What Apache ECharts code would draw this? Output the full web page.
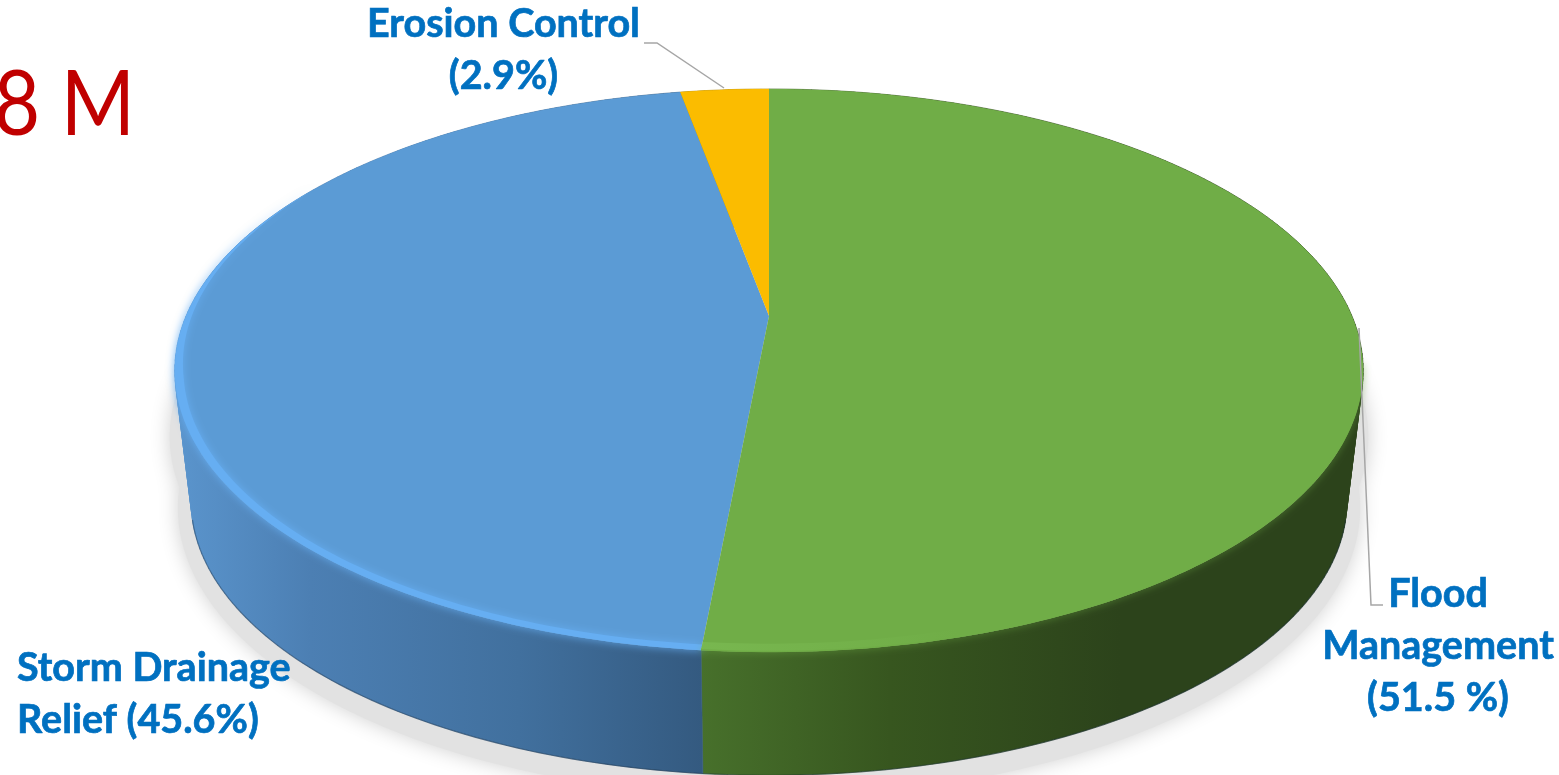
<!DOCTYPE html>
<html>
<head>
<meta charset="utf-8">
<style>html,body{margin:0;padding:0;background:#fff;overflow:hidden}#main{width:1559px;height:775px}</style>
<script src="https://cdn.jsdelivr.net/npm/echarts@6/dist/echarts.min.js"></script>
</head>
<body>
<div id="main"></div>
<script>
// slices go clockwise from 12 o'clock
var categories = ['Flood Management', 'Storm Drainage Relief', 'Erosion Control'];
var shares = [51.5, 45.6, 2.9];
var labelTexts = ['Flood\nManagement\n(51.5 %)', 'Storm Drainage\nRelief (45.6%)', 'Erosion Control\n(2.9%)'];
var amountText = '8 M';

var topColors = ['#70AD47', '#5B9BD5', '#FBBC00'];
var wallStops = [
  [[0, '#47702b'], [0.45, '#37561f'], [1, '#2c431b']],
  [[0, '#5a94cc'], [0.25, '#4c7fb3'], [0.65, '#41709e'], [1, '#345a80']],
  [[0, '#b58a00'], [1, '#b58a00']]
];
var wallX = [[702, 1120], [180, 702], [680, 769]];

// perspective disc: k is the tilt, a and b the disc size on screen
var k = 0.1935;
var topDisc = {cx: 769, cy: 316, a: 583, b: 271};
var lowDisc = {cx: 769, cy: 448, a: 567, b: 264};
var shadowLow = {cx: 769, cy: 452, a: 580, b: 278};
var shadowMid = {cx: 769, cy: 382, a: 588, b: 272};

function pt(d, deg, s) {
  var r = deg * Math.PI / 180;
  var u = Math.sin(r) * s, v = Math.cos(r) * s;
  var w = 1 + k * v;
  return [d.cx + d.a * u / w, d.cy - d.b * v / w];
}
function arc(d, from, to, s) {
  var out = [], n = Math.max(2, Math.ceil(Math.abs(to - from)));
  for (var i = 0; i <= n; i++) {
    var deg = from + (to - from) * i / n;
    out.push(pt(d, deg, typeof s === 'function' ? s(deg) : s));
  }
  return out;
}
function pathOf(points) {
  return 'M' + points.map(function (p) { return p[0].toFixed(2) + ' ' + p[1].toFixed(2); }).join('L') + 'Z';
}
function lineOf(points) {
  return 'M' + points.map(function (p) { return p[0].toFixed(2) + ' ' + p[1].toFixed(2); }).join('L');
}
function range(i) {
  var total = shares.reduce(function (a, b) { return a + b; }, 0), sum = 0;
  for (var j = 0; j < i; j++) sum += shares[j];
  return [sum / total * 360, (sum + shares[i]) / total * 360];
}
// wall as small quads all wound the same way, a single polygon folds at the sides and leaves holes
function wallPath(top, low) {
  var out = '';
  for (var i = 0; i < top.length - 1; i++) {
    var q = [top[i], top[i + 1], low[i + 1], low[i]], area = 0;
    for (var j = 0; j < 4; j++) {
      var a = q[j], b = q[(j + 1) % 4];
      area += a[0] * b[1] - b[0] * a[1];
    }
    if (area < 0) q.reverse();
    out += pathOf(q);
  }
  return out;
}

function renderShadow(params) {
  return {
    type: 'path', silent: true,
    shape: {pathData: pathOf(arc(shadowLow, 0, 360, 1)) + pathOf(arc(shadowMid, 0, 360, 1))},
    style: {fill: '#e2e2e2', shadowBlur: 20, shadowColor: '#d0d0d0'}
  };
}

function renderWall(params) {
  var i = params.dataIndex, r = range(i);
  var g = new echarts.graphic.LinearGradient(wallX[i][0], 0, wallX[i][1], 0, wallStops[i].map(function (s) {
    return {offset: s[0], color: s[1]};
  }), true);
  var top = arc(topDisc, r[0], r[1], 1);
  var low = arc(lowDisc, r[0], r[1], 1);
  var front = i === 0 ? arc(lowDisc, 105, r[1], 1) : i === 1 ? arc(lowDisc, r[0], 255, 1) : [];
  var kids = [{type: 'path', shape: {pathData: wallPath(top, low)}, style: {fill: g, stroke: g, lineWidth: 0.6}}];
  if (front.length) {
    kids.push({type: 'path', shape: {pathData: lineOf(front)}, style: {fill: null, stroke: 'rgba(20,40,60,0.4)', lineWidth: 1.2}});
  }
  return {type: 'group', children: kids};
}

function renderTop(params) {
  var i = params.dataIndex, r = range(i), kids = [];
  var edge = arc(topDisc, r[0], r[1], 1);
  var face = pathOf([[topDisc.cx, topDisc.cy]].concat(edge));
  if (i === 0) {
    // soft edge where the green face meets the dark wall
    kids.push({
      type: 'path', z2: 3,
      shape: {pathData: lineOf(arc(topDisc, 100, r[1], 0.998))},
      style: {fill: null, stroke: '#70AD47', lineWidth: 2, shadowBlur: 7, shadowColor: '#70AD47'}
    });
  }
  kids.push({type: 'path', z2: i === 0 ? 4 : 1, shape: {pathData: face}, style: {fill: topColors[i]}});
  if (i === 1) {
    // bright bevel on the front left rim, fades out going up
    var band = function (deg) { return 1 - 0.014 * Math.min(1, Math.max(0, (302 - deg) / 45)); };
    kids.push({
      type: 'path', z2: 2,
      shape: {pathData: pathOf(arc(topDisc, r[0], 302, 1).concat(arc(topDisc, r[0], 302, band).reverse()))},
      style: {fill: '#66aef2', shadowBlur: 8, shadowColor: '#66aef2'}
    });
  }
  if (i === 0) {
    var fade = new echarts.graphic.LinearGradient(702, 0, 960, 0, [
      {offset: 0, color: 'rgba(132,198,92,0.4)'}, {offset: 1, color: 'rgba(132,198,92,0)'}
    ], true);
    kids.push({
      type: 'path', z2: 5,
      shape: {pathData: pathOf(arc(topDisc, r[1], 140, 0.997).concat(arc(topDisc, 140, r[1], 0.98)))},
      style: {fill: fade}
    });
  }
  return {type: 'group', children: kids};
}

var seriesData = categories.map(function (c, i) { return {name: c, value: shares[i]}; });
var labelStyle = {fill: '#0070C0', stroke: '#0070C0', lineWidth: 0.7, font: 'bold 39.5px Lato', lineHeight: 52};
var lineStyle = {fill: null, stroke: '#a6a6a6', lineWidth: 1.5};

var myChart = echarts.init(document.getElementById('main'), null, {renderer: 'canvas'});
myChart.setOption({
  animation: false,
  backgroundColor: '#fff',
  tooltip: {show: false},
  series: [
    {type: 'custom', coordinateSystem: 'none', z: 1, silent: true, data: [0], renderItem: renderShadow},
    {type: 'custom', coordinateSystem: 'none', z: 2, silent: true, data: seriesData, renderItem: renderWall},
    {type: 'custom', coordinateSystem: 'none', z: 3, silent: true, data: seriesData, renderItem: renderTop}
  ],
  graphic: [
    {type: 'text', z: 10, x: 135, y: 106, scaleX: 0.88, style: {text: amountText, x: 0, y: 0, align: 'right', verticalAlign: 'middle', fill: '#C00000', font: '400 91px Lato'}},
    {type: 'polyline', z: 10, shape: {points: [[644, 43], [657, 43], [724, 88]]}, style: lineStyle},
    {type: 'polyline', z: 10, shape: {points: [[1359, 328], [1371, 605], [1383, 605]]}, style: lineStyle},
    {type: 'text', z: 10, style: Object.assign({text: labelTexts[0], x: 1438, y: 646, align: 'center', verticalAlign: 'middle'}, labelStyle)},
    {type: 'text', z: 10, style: Object.assign({text: labelTexts[1], x: 17, y: 694, align: 'left', verticalAlign: 'middle'}, labelStyle)},
    {type: 'text', z: 10, style: Object.assign({text: labelTexts[2], x: 503.5, y: 50, align: 'center', verticalAlign: 'middle'}, labelStyle)}
  ]
});
</script>
</body>
</html>
